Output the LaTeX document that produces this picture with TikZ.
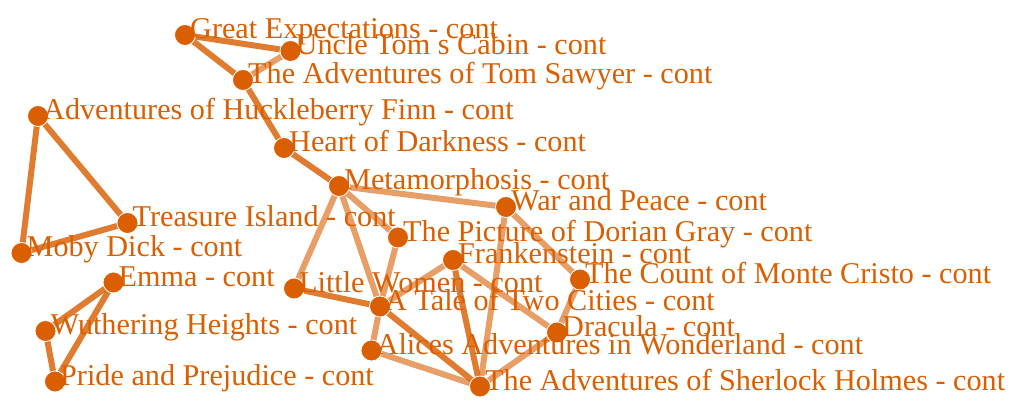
\documentclass[tikz,border=0pt]{standalone}
\usepackage{fontspec}
\setmainfont{Liberation Serif}
\newfontfamily\titlefont{Liberation Serif}
\definecolor{bookorange}{RGB}{217,95,2}
\begin{document}
\begin{tikzpicture}[x=1pt, y=-1pt,
    book/.style={circle, fill=bookorange, draw=white, line width=0.8pt, minimum size=21pt, inner sep=0pt},
    title/.style={anchor=base west, text=bookorange, font=\titlefont\fontsize{30.2}{36}\selectfont, inner sep=0pt},
    strong/.style={draw=bookorange, draw opacity=0.82, line width=6pt},
    weak/.style={draw=bookorange, draw opacity=0.6, line width=6pt}]
    \useasboundingbox (0,0) rectangle (1013,411);

    \coordinate (ge) at (185,35);
    \coordinate (uncle) at (290.5,51);
    \coordinate (sawyer) at (243,80);
    \coordinate (huck) at (38,116);
    \coordinate (heart) at (284,148);
    \coordinate (meta) at (339,186);
    \coordinate (war) at (506,207);
    \coordinate (treasure) at (127.5,223);
    \coordinate (dorian) at (398,237.5);
    \coordinate (moby) at (21.5,253);
    \coordinate (frank) at (453,260);
    \coordinate (count) at (580,279.5);
    \coordinate (emma) at (113.5,282.5);
    \coordinate (little) at (294,288.5);
    \coordinate (tale) at (380,306.5);
    \coordinate (wuther) at (45.5,331);
    \coordinate (dracula) at (557,332.5);
    \coordinate (alice) at (371.5,350.5);
    \coordinate (pride) at (55,381.5);
    \coordinate (holmes) at (480,386.5);

    % links
    \draw[strong] (ge) -- (uncle);
    \draw[strong] (ge) -- (sawyer);
    \draw[weak] (uncle) -- (sawyer);
    \draw[strong] (sawyer) -- (heart);
    \draw[strong] (heart) -- (meta);
    \draw[strong] (huck) -- (moby);
    \draw[strong] (huck) -- (treasure);
    \draw[strong] (treasure) -- (moby);
    \draw[strong] (emma) -- (wuther);
    \draw[strong] (emma) -- (pride);
    \draw[strong] (wuther) -- (pride);
    \draw[weak] (meta) -- (war);
    \draw[weak] (meta) -- (dorian);
    \draw[weak] (meta) -- (little);
    \draw[weak] (meta) -- (tale);
    \draw[weak] (dorian) -- (tale);
    \draw[strong] (little) -- (tale);
    \draw[weak] (frank) -- (tale);
    \draw[weak] (frank) -- (dracula);
    \draw[strong] (frank) -- (holmes);
    \draw[weak] (war) -- (count);
    \draw[weak] (war) -- (holmes);
    \draw[weak] (count) -- (dracula);
    \draw[weak] (tale) -- (alice);
    \draw[strong] (tale) -- (holmes);
    \draw[weak] (alice) -- (holmes);
    \draw[weak] (dracula) -- (holmes);

    % books
    \foreach \b in {ge,uncle,sawyer,huck,heart,meta,war,treasure,dorian,moby,
                    frank,count,emma,little,tale,wuther,dracula,alice,pride,holmes}
        \node[book] (\b-dot) at (\b) {};

    % titles
    \node[title] (ge-t) at ([xshift=5pt,yshift=-4pt]ge-dot.center) {Great Expectations - cont};
    \node[title] (uncle-t) at ([xshift=5pt,yshift=-4pt]uncle-dot.center) {Uncle Tom s Cabin - cont};
    \node[title] (sawyer-t) at ([xshift=5pt,yshift=-4pt]sawyer-dot.center) {The Adventures of Tom Sawyer - cont};
    \node[title] (huck-t) at ([xshift=5pt,yshift=-4pt]huck-dot.center) {Adventures of Huckleberry Finn - cont};
    \node[title] (heart-t) at ([xshift=5pt,yshift=-4pt]heart-dot.center) {Heart of Darkness - cont};
    \node[title] (meta-t) at ([xshift=5pt,yshift=-4pt]meta-dot.center) {Metamorphosis - cont};
    \node[title] (war-t) at ([xshift=5pt,yshift=-4pt]war-dot.center) {War and Peace - cont};
    \node[title] (treasure-t) at ([xshift=5pt,yshift=-4pt]treasure-dot.center) {Treasure Island - cont};
    \node[title] (dorian-t) at ([xshift=5pt,yshift=-4pt]dorian-dot.center) {The Picture of Dorian Gray - cont};
    \node[title] (moby-t) at ([xshift=5pt,yshift=-4pt]moby-dot.center) {Moby Dick - cont};
    \node[title] (frank-t) at ([xshift=5pt,yshift=-4pt]frank-dot.center) {Frankenstein - cont};
    \node[title] (count-t) at ([xshift=5pt,yshift=-4pt]count-dot.center) {The Count of Monte Cristo - cont};
    \node[title] (emma-t) at ([xshift=5pt,yshift=-4pt]emma-dot.center) {Emma - cont};
    \node[title] (little-t) at ([xshift=5pt,yshift=-4pt]little-dot.center) {Little Women - cont};
    \node[title] (tale-t) at ([xshift=5pt,yshift=-4pt]tale-dot.center) {A Tale of Two Cities - cont};
    \node[title] (wuther-t) at ([xshift=5pt,yshift=-4pt]wuther-dot.center) {Wuthering Heights - cont};
    \node[title] (dracula-t) at ([xshift=5pt,yshift=-4pt]dracula-dot.center) {Dracula - cont};
    \node[title] (alice-t) at ([xshift=5pt,yshift=-4pt]alice-dot.center) {Alices Adventures in Wonderland - cont};
    \node[title] (pride-t) at ([xshift=5pt,yshift=-4pt]pride-dot.center) {Pride and Prejudice - cont};
    \node[title] (holmes-t) at ([xshift=5pt,yshift=-4pt]holmes-dot.center) {The Adventures of Sherlock Holmes - cont};
\end{tikzpicture}
\end{document}
